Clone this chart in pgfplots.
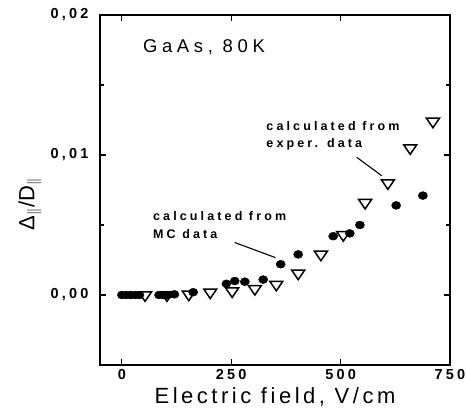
\documentclass[border=0pt]{standalone}
\usepackage{fontspec}
\setmainfont{Liberation Sans}
\newfontfamily\tickfont[LetterSpace=22]{Liberation Sans}
\newfontfamily\labfont[LetterSpace=16]{Liberation Sans}
\newfontfamily\annfont[LetterSpace=25]{Liberation Sans}
\usepackage{pgfplots}
\pgfplotsset{compat=1.18}
\begin{document}
\begin{tikzpicture}
\begin{axis}[
  at={(0,0)}, anchor=south west,
  scale only axis, width=350pt, height=350pt,
  xmin=-50, xmax=750, ymin=-0.005, ymax=0.02,
  xtick={0,250,500,750}, ytick={0,0.01,0.02},
  minor ytick={-0.005,0.005,0.015},
  tick align=inside, major tick length=6pt, minor tick length=4pt,
  axis line style={line width=1.3pt},
  every tick/.style={line width=1.1pt, black},
  scaled y ticks=false,
  /pgf/number format/assume math mode=true,
  yticklabel style={xshift=-8pt, /pgf/number format/fixed, /pgf/number format/fixed zerofill, /pgf/number format/precision=2, /pgf/number format/use comma},
  tick label style={font=\tickfont\fontsize{14.5}{16}\selectfont\bfseries},
  xticklabel style={yshift=-1pt},
  xlabel={\labfont\fontsize{22}{24}\selectfont Electric field, V/cm},
  xlabel style={at={(axis description cs:0.5,0)}, anchor=north, yshift=-19pt},
  ylabel={\fontsize{22}{24}\selectfont Δ\textsubscript{$\parallel$}/D\textsubscript{$\parallel$}},
  ylabel style={at={(axis description cs:-0.2,0.46)}, anchor=center},
  clip=false,
]
\addplot[only marks, mark=*, mark size=4pt, mark options={fill=black, draw=black, xscale=1.15}] coordinates {
(0,0) (10,0) (20,0) (30,0) (40,0) (85,0) (95,0) (105,0) (120,0.00005) (163,0.0002)
(239,0.0008) (258,0.001) (281,0.00095) (323,0.0011) (363,0.0022) (403,0.0029)
(483,0.0042) (521,0.0044) (544,0.005) (627,0.0064) (688,0.0071)
};
\addplot[only marks, mark=triangle, mark size=7.5pt, mark options={rotate=180, yscale=0.85, draw=black, fill=white, line width=1.5pt}] coordinates {
(53,0) (103,0) (153,0.00005) (202,0.0002) (252,0.00028) (304,0.00045) (353,0.00075)
(403,0.00155) (455,0.0029) (506,0.0043) (556,0.0066) (608,0.0080) (659,0.0105) (711,0.0124)
};
\node[anchor=base west, inner sep=0pt] at (axis cs:48,0.0173) {\annfont\fontsize{18.5}{20}\selectfont GaAs, 80K};
\node[anchor=base west, inner sep=0pt] at (axis cs:330,0.01174) {\annfont\fontsize{12.5}{13}\selectfont\bfseries calculated from};
\node[anchor=base west, inner sep=0pt] at (axis cs:330,0.0105) {\annfont\fontsize{12.5}{13}\selectfont\bfseries exper. data};
\node[anchor=base west, inner sep=0pt] at (axis cs:71,0.00535) {\annfont\fontsize{12.5}{13}\selectfont\bfseries calculated from};
\node[anchor=base west, inner sep=0pt] at (axis cs:71,0.00403) {\annfont\fontsize{12.5}{13}\selectfont\bfseries MC data};
\draw[line width=1.1pt] (axis cs:258,0.00375) -- (axis cs:351,0.00267);
\draw[line width=1.1pt] (axis cs:537,0.00983) -- (axis cs:594,0.00852);
\end{axis}
\pgfresetboundingbox
\path (-100pt,-54pt) rectangle (366pt,365pt);
\end{tikzpicture}
\end{document}
